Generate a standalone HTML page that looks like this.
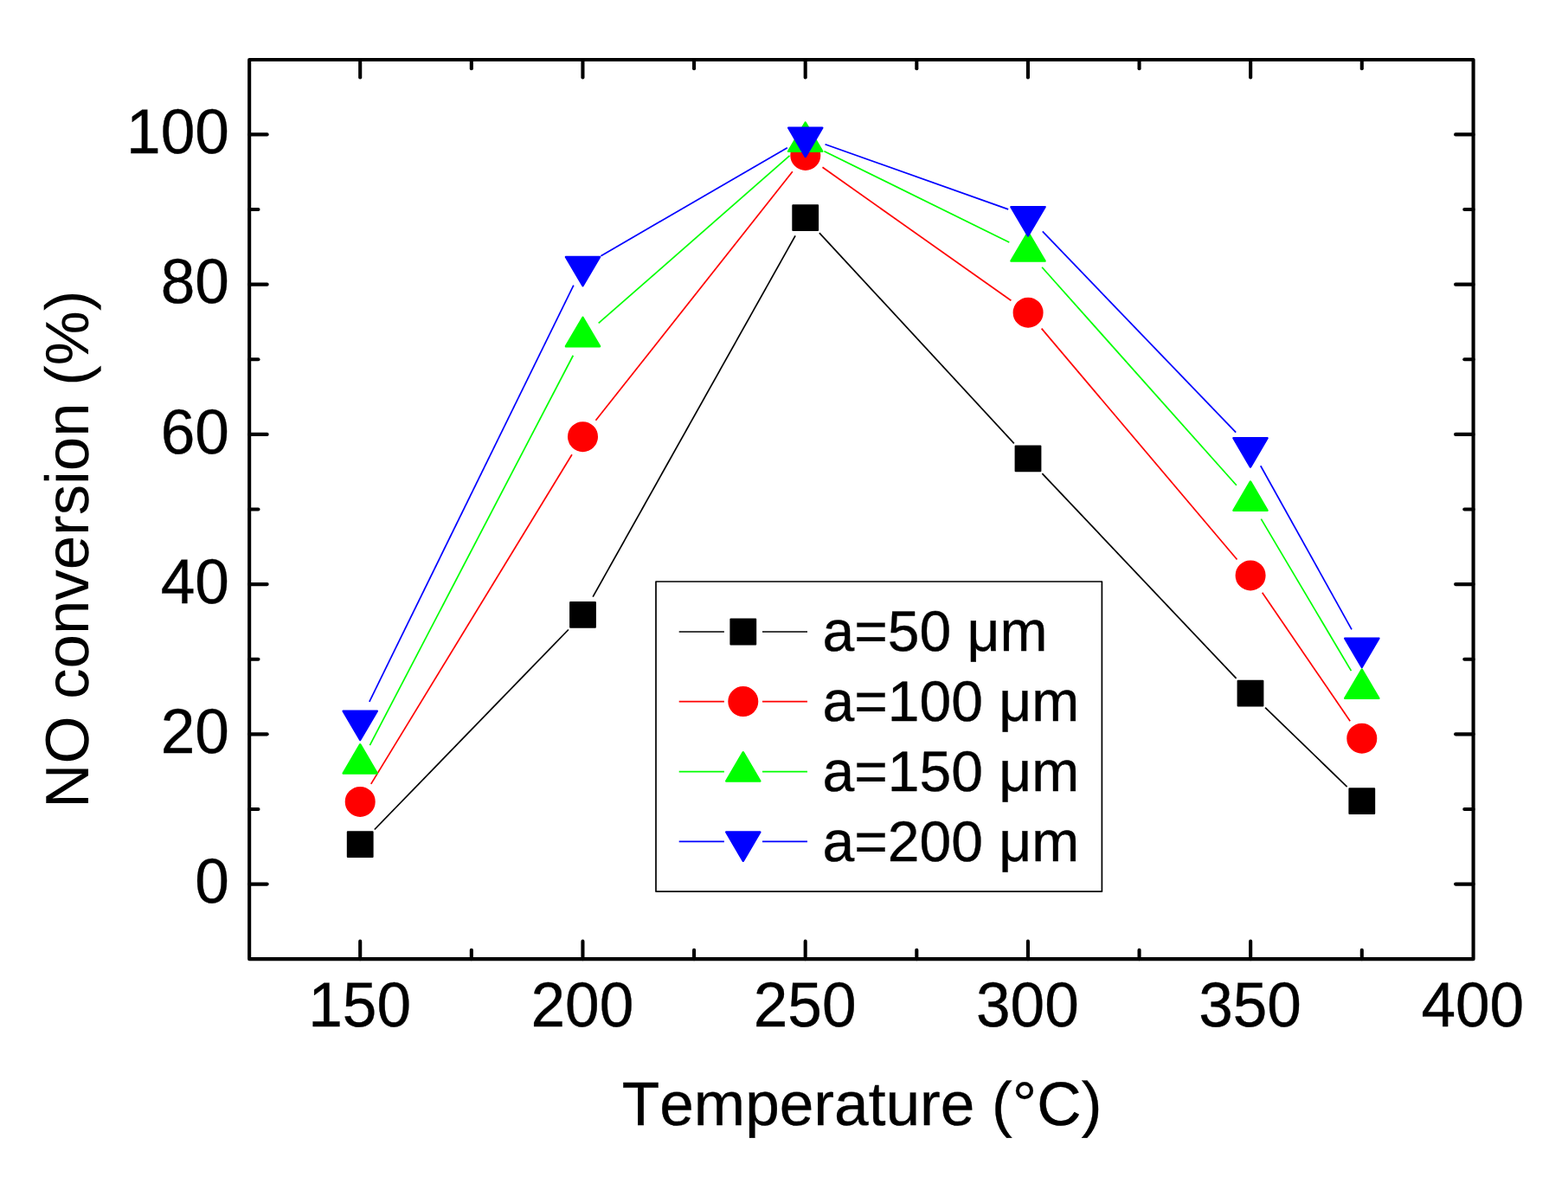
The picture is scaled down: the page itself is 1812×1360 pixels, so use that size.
<!DOCTYPE html>
<html lang="en"><head><meta charset="utf-8"><title>NO conversion vs Temperature</title>
<style>html,body{margin:0;padding:0;background:#fff;}body{width:1812px;height:1360px;overflow:hidden;}svg{display:block;}text{font-family:"Liberation Sans",sans-serif;fill:#000;stroke:#000;stroke-width:0.35px;font-kerning:none;text-rendering:geometricPrecision;}</style></head><body>
<svg width="1812" height="1360" viewBox="0 0 1812 1360">
<rect x="0" y="0" width="1812" height="1360" fill="#ffffff"/>
<g stroke="#000000" stroke-width="1.7" fill="none">
<line x1="432.77" y1="958.52" x2="656.93" y2="727.48"/>
<line x1="685.14" y1="689.64" x2="919.06" y2="272.36"/>
<line x1="946.86" y1="269.07" x2="1171.84" y2="512.33"/>
<line x1="1204.36" y1="547.08" x2="1428.64" y2="783.92"/>
<line x1="1462.12" y1="817.73" x2="1556.68" y2="909.02"/>
</g>
<g>
<rect x="401.80" y="961.20" width="28.8" height="28.8" fill="#000000" stroke="#000000" stroke-width="2.0" stroke-linejoin="round"/>
<rect x="659.10" y="696.00" width="28.8" height="28.8" fill="#000000" stroke="#000000" stroke-width="2.0" stroke-linejoin="round"/>
<rect x="916.30" y="237.20" width="28.8" height="28.8" fill="#000000" stroke="#000000" stroke-width="2.0" stroke-linejoin="round"/>
<rect x="1173.60" y="515.40" width="28.8" height="28.8" fill="#000000" stroke="#000000" stroke-width="2.0" stroke-linejoin="round"/>
<rect x="1430.60" y="786.80" width="28.8" height="28.8" fill="#000000" stroke="#000000" stroke-width="2.0" stroke-linejoin="round"/>
<rect x="1559.40" y="911.15" width="28.8" height="28.8" fill="#000000" stroke="#000000" stroke-width="2.0" stroke-linejoin="round"/>
</g>
<g stroke="#ff0000" stroke-width="1.7" fill="none">
<line x1="428.75" y1="905.83" x2="660.95" y2="525.27"/>
<line x1="688.45" y1="485.80" x2="915.85" y2="198.30"/>
<line x1="950.48" y1="193.31" x2="1168.42" y2="347.29"/>
<line x1="1203.67" y1="379.60" x2="1429.53" y2="646.50"/>
<line x1="1458.70" y1="684.80" x2="1560.20" y2="833.30"/>
</g>
<g>
<circle cx="416.20" cy="926.40" r="16.5" fill="#ff0000" stroke="#ff0000" stroke-width="2.0" stroke-linejoin="round"/>
<circle cx="673.50" cy="504.70" r="16.5" fill="#ff0000" stroke="#ff0000" stroke-width="2.0" stroke-linejoin="round"/>
<circle cx="930.80" cy="179.40" r="16.5" fill="#ff0000" stroke="#ff0000" stroke-width="2.0" stroke-linejoin="round"/>
<circle cx="1188.10" cy="361.20" r="16.5" fill="#ff0000" stroke="#ff0000" stroke-width="2.0" stroke-linejoin="round"/>
<circle cx="1445.10" cy="664.90" r="16.5" fill="#ff0000" stroke="#ff0000" stroke-width="2.0" stroke-linejoin="round"/>
<circle cx="1573.80" cy="853.20" r="16.5" fill="#ff0000" stroke="#ff0000" stroke-width="2.0" stroke-linejoin="round"/>
</g>
<g stroke="#00ff00" stroke-width="1.7" fill="none">
<line x1="427.39" y1="861.14" x2="662.31" y2="410.76"/>
<line x1="691.70" y1="373.35" x2="912.50" y2="179.95"/>
<line x1="952.41" y1="174.69" x2="1166.29" y2="280.01"/>
<line x1="1204.11" y1="308.76" x2="1428.89" y2="560.79"/>
<line x1="1457.35" y1="599.66" x2="1561.45" y2="775.14"/>
</g>
<g>
<polygon points="416.20,860.17 435.80,893.52 396.60,893.52" fill="#00ff00" stroke="#00ff00" stroke-width="2.4" stroke-linejoin="round"/>
<polygon points="673.50,366.87 693.10,400.22 653.90,400.22" fill="#00ff00" stroke="#00ff00" stroke-width="2.4" stroke-linejoin="round"/>
<polygon points="930.70,141.57 950.30,174.92 911.10,174.92" fill="#00ff00" stroke="#00ff00" stroke-width="2.4" stroke-linejoin="round"/>
<polygon points="1188.00,268.27 1207.60,301.62 1168.40,301.62" fill="#00ff00" stroke="#00ff00" stroke-width="2.4" stroke-linejoin="round"/>
<polygon points="1445.00,556.42 1464.60,589.77 1425.40,589.77" fill="#00ff00" stroke="#00ff00" stroke-width="2.4" stroke-linejoin="round"/>
<polygon points="1573.80,773.52 1593.40,806.87 1554.20,806.87" fill="#00ff00" stroke="#00ff00" stroke-width="2.4" stroke-linejoin="round"/>
</g>
<g stroke="#0000ff" stroke-width="1.7" fill="none">
<line x1="426.85" y1="810.77" x2="662.85" y2="329.53"/>
<line x1="694.43" y1="295.66" x2="909.82" y2="170.74"/>
<line x1="953.55" y1="166.70" x2="1165.20" y2="241.90"/>
<line x1="1204.78" y1="267.44" x2="1428.22" y2="499.66"/>
<line x1="1456.77" y1="538.25" x2="1562.03" y2="727.35"/>
</g>
<g>
<polygon points="416.20,854.93 435.80,821.58 396.60,821.58" fill="#0000ff" stroke="#0000ff" stroke-width="2.4" stroke-linejoin="round"/>
<polygon points="673.50,330.23 693.10,296.88 653.90,296.88" fill="#0000ff" stroke="#0000ff" stroke-width="2.4" stroke-linejoin="round"/>
<polygon points="930.75,181.03 950.35,147.68 911.15,147.68" fill="#0000ff" stroke="#0000ff" stroke-width="2.4" stroke-linejoin="round"/>
<polygon points="1188.00,272.43 1207.60,239.08 1168.40,239.08" fill="#0000ff" stroke="#0000ff" stroke-width="2.4" stroke-linejoin="round"/>
<polygon points="1445.00,539.53 1464.60,506.18 1425.40,506.18" fill="#0000ff" stroke="#0000ff" stroke-width="2.4" stroke-linejoin="round"/>
<polygon points="1573.80,770.93 1593.40,737.58 1554.20,737.58" fill="#0000ff" stroke="#0000ff" stroke-width="2.4" stroke-linejoin="round"/>
</g>
<rect x="758.0" y="672.0" width="515.40" height="358.10" fill="#ffffff" stroke="#000" stroke-width="1.7" stroke-linejoin="round"/>
<g stroke="#000000" stroke-width="1.7"><line x1="784.7" y1="730.0" x2="836.9" y2="730.0"/><line x1="881.0" y1="730.0" x2="933.0" y2="730.0"/></g>
<rect x="844.40" y="715.60" width="28.8" height="28.8" fill="#000000" stroke="#000000" stroke-width="2.0" stroke-linejoin="round"/>
<text x="950.5" y="752.45" font-size="66">a=50 μm</text>
<g stroke="#ff0000" stroke-width="1.7"><line x1="784.7" y1="810.6" x2="836.9" y2="810.6"/><line x1="881.0" y1="810.6" x2="933.0" y2="810.6"/></g>
<circle cx="858.80" cy="810.60" r="16.5" fill="#ff0000" stroke="#ff0000" stroke-width="2.0" stroke-linejoin="round"/>
<text x="950.5" y="833.05" font-size="66">a=100 μm</text>
<g stroke="#00ff00" stroke-width="1.7"><line x1="784.7" y1="891.6" x2="836.9" y2="891.6"/><line x1="881.0" y1="891.6" x2="933.0" y2="891.6"/></g>
<polygon points="858.80,869.17 878.40,902.52 839.20,902.52" fill="#00ff00" stroke="#00ff00" stroke-width="2.4" stroke-linejoin="round"/>
<text x="950.5" y="914.05" font-size="66">a=150 μm</text>
<g stroke="#0000ff" stroke-width="1.7"><line x1="784.7" y1="972.4" x2="836.9" y2="972.4"/><line x1="881.0" y1="972.4" x2="933.0" y2="972.4"/></g>
<polygon points="858.80,994.83 878.40,961.48 839.20,961.48" fill="#0000ff" stroke="#0000ff" stroke-width="2.4" stroke-linejoin="round"/>
<text x="950.5" y="994.85" font-size="66">a=200 μm</text>
<g stroke="#000" stroke-width="4.1" fill="none" stroke-linecap="round" stroke-linejoin="round">
<rect x="288.15" y="68.95" width="1414.45" height="1039.20"/>
<line x1="416.20" y1="1108.15" x2="416.20" y2="1087.65"/>
<line x1="416.20" y1="68.95" x2="416.20" y2="89.45"/>
<line x1="544.82" y1="1108.15" x2="544.82" y2="1097.85"/>
<line x1="544.82" y1="68.95" x2="544.82" y2="79.25"/>
<line x1="673.44" y1="1108.15" x2="673.44" y2="1087.65"/>
<line x1="673.44" y1="68.95" x2="673.44" y2="89.45"/>
<line x1="802.07" y1="1108.15" x2="802.07" y2="1097.85"/>
<line x1="802.07" y1="68.95" x2="802.07" y2="79.25"/>
<line x1="930.69" y1="1108.15" x2="930.69" y2="1087.65"/>
<line x1="930.69" y1="68.95" x2="930.69" y2="89.45"/>
<line x1="1059.31" y1="1108.15" x2="1059.31" y2="1097.85"/>
<line x1="1059.31" y1="68.95" x2="1059.31" y2="79.25"/>
<line x1="1187.93" y1="1108.15" x2="1187.93" y2="1087.65"/>
<line x1="1187.93" y1="68.95" x2="1187.93" y2="89.45"/>
<line x1="1316.56" y1="1108.15" x2="1316.56" y2="1097.85"/>
<line x1="1316.56" y1="68.95" x2="1316.56" y2="79.25"/>
<line x1="1445.18" y1="1108.15" x2="1445.18" y2="1087.65"/>
<line x1="1445.18" y1="68.95" x2="1445.18" y2="89.45"/>
<line x1="1573.80" y1="1108.15" x2="1573.80" y2="1097.85"/>
<line x1="1573.80" y1="68.95" x2="1573.80" y2="79.25"/>
<line x1="288.15" y1="1021.60" x2="308.65" y2="1021.60"/>
<line x1="1702.6" y1="1021.60" x2="1682.10" y2="1021.60"/>
<line x1="288.15" y1="934.98" x2="298.45" y2="934.98"/>
<line x1="1702.6" y1="934.98" x2="1692.30" y2="934.98"/>
<line x1="288.15" y1="848.36" x2="308.65" y2="848.36"/>
<line x1="1702.6" y1="848.36" x2="1682.10" y2="848.36"/>
<line x1="288.15" y1="761.74" x2="298.45" y2="761.74"/>
<line x1="1702.6" y1="761.74" x2="1692.30" y2="761.74"/>
<line x1="288.15" y1="675.12" x2="308.65" y2="675.12"/>
<line x1="1702.6" y1="675.12" x2="1682.10" y2="675.12"/>
<line x1="288.15" y1="588.50" x2="298.45" y2="588.50"/>
<line x1="1702.6" y1="588.50" x2="1692.30" y2="588.50"/>
<line x1="288.15" y1="501.88" x2="308.65" y2="501.88"/>
<line x1="1702.6" y1="501.88" x2="1682.10" y2="501.88"/>
<line x1="288.15" y1="415.26" x2="298.45" y2="415.26"/>
<line x1="1702.6" y1="415.26" x2="1692.30" y2="415.26"/>
<line x1="288.15" y1="328.64" x2="308.65" y2="328.64"/>
<line x1="1702.6" y1="328.64" x2="1682.10" y2="328.64"/>
<line x1="288.15" y1="242.02" x2="298.45" y2="242.02"/>
<line x1="1702.6" y1="242.02" x2="1692.30" y2="242.02"/>
<line x1="288.15" y1="155.40" x2="308.65" y2="155.40"/>
<line x1="1702.6" y1="155.40" x2="1682.10" y2="155.40"/>
</g>
<g font-size="71.2" text-anchor="middle">
<text transform="translate(415.60,1186.1) scale(1,1.028)">150</text>
<text transform="translate(672.84,1186.1) scale(1,1.028)">200</text>
<text transform="translate(930.09,1186.1) scale(1,1.028)">250</text>
<text transform="translate(1187.34,1186.1) scale(1,1.028)">300</text>
<text transform="translate(1444.58,1186.1) scale(1,1.028)">350</text>
<text transform="translate(1701.83,1186.1) scale(1,1.028)">400</text>
</g>
<g font-size="71.2" text-anchor="end">
<text transform="translate(264.9,1043.30) scale(1,1.028)">0</text>
<text transform="translate(264.9,870.06) scale(1,1.028)">20</text>
<text transform="translate(264.9,696.82) scale(1,1.028)">40</text>
<text transform="translate(264.9,523.58) scale(1,1.028)">60</text>
<text transform="translate(264.9,350.34) scale(1,1.028)">80</text>
<text transform="translate(264.9,177.10) scale(1,1.028)">100</text>
</g>
<text x="996.1" y="1300.3" font-size="71.2" text-anchor="middle">Temperature (°C)</text>
<text transform="translate(102,634.7) rotate(-90)" font-size="70.8" text-anchor="middle" style="stroke:none">NO conversion (%)</text>
</svg></body></html>
